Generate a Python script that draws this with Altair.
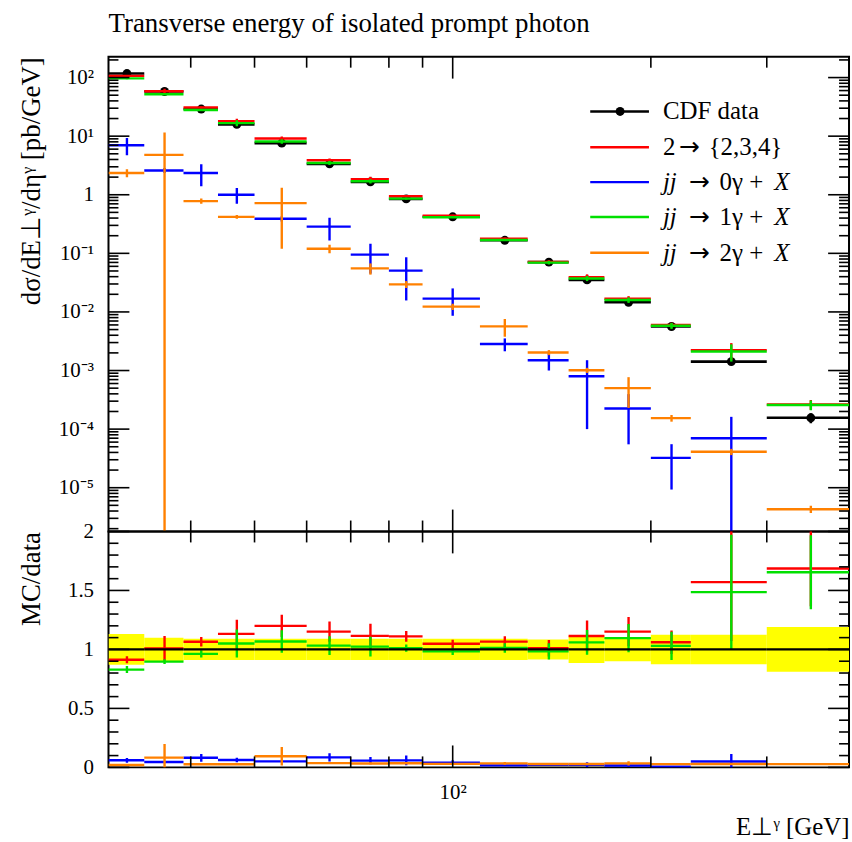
import altair as alt
import pandas as pd

FONT = "Liberation Serif"

# Photon E_T bins (GeV)
bin_lo = [30, 34, 39, 44, 50, 60, 70, 80, 90, 110, 130, 150, 170, 200, 230, 300]
bin_hi = [34, 39, 44, 50, 60, 70, 80, 90, 110, 130, 150, 170, 200, 230, 300, 400]
bin_mid = [32, 36.5, 41.5, 47, 55, 65, 75, 85, 100, 120, 140, 160, 185, 215, 265, 350]

# CDF measurement [pb/GeV] and its relative uncertainty
cdf_val = [117, 57.8, 29.0, 15.9, 7.6, 3.37, 1.66, 0.85, 0.42, 0.167, 0.0707,
           0.0352, 0.0146, 0.00564, 0.00142, 0.000156]
cdf_rel_err = [0.13, 0.10, 0.09, 0.09, 0.09, 0.09, 0.09, 0.09, 0.09, 0.09, 0.085,
               0.115, 0.10, 0.125, 0.125, 0.19]

# Monte Carlo predictions [pb/GeV] with statistical errors
mc_red = [106.8, 58.3, 30.9, 18.0, 9.12, 3.88, 1.85, 0.944, 0.440, 0.178, 0.0714,
          0.0392, 0.0168, 0.00598, 0.00223, 0.000263]
mc_red_err = [3.5, 6.1, 1.16, 1.9, 0.72, 0.29, 0.17, 0.038, 0.0147, 0.0075, 0.0049,
              0.0046, 0.0018, 0.00056, 0.00071, 0.00005]
mc_blue = [7.0, 2.6, 2.35, 1.0, 0.39, 0.286, 0.0952, 0.0507, 0.0169, 0.00283, 0.00150,
           0.000800, 0.000225, 3.23e-5, 7.0e-5, 0]
mc_blue_err = [2.3, 0.25, 0.95, 0.3, 0.04, 0.12, 0.05, 0.035, 0.0083, 0.0007, 0.0005,
               0.0007, 0.00017, 2.3e-5, 9.2e-5, 0]
mc_green = [97.0, 51.8, 27.9, 16.7, 8.11, 3.48, 1.70, 0.859, 0.413, 0.169, 0.0695,
            0.0373, 0.0160, 0.00581, 0.00211, 0.000258]
mc_green_err = [3.5, 1.2, 0.87, 1.9, 0.72, 0.27, 0.14, 0.026, 0.0126, 0.0067, 0.0049,
                0.0037, 0.00175, 0.00068, 0.00069, 0.000049]
mc_orange = [2.35, 4.8, 0.78, 0.42, 0.72, 0.12, 0.0553, 0.0296, 0.0123, 0.00567, 0.00203,
             0.00101, 0.00050, 0.000154, 4.1e-5, 4.3e-6]
mc_orange_err = [0.37, 6.7, 0.08, 0.03, 0.6, 0.02, 0.012, 0.004, 0.0015, 0.0019, 0.0002,
                 0.0001, 0.00027, 2e-5, 5e-6, 6e-7]

RED, BLUE, GREEN, ORANGE = "#ff0000", "#0000ff", "#00e000", "#ff8000"

W, H_TOP, H_BOT = 744, 477, 237
FLOOR = 1e-7

x_scale = alt.Scale(type="log", domain=[30, 400], nice=False)
y_top_scale = alt.Scale(type="log", domain=[1.79e-6, 227], nice=False)
y_bot_scale = alt.Scale(domain=[0, 2], nice=False, zero=False)

# ---- axes -------------------------------------------------------------
sup = {2: "²", 1: "¹", -1: "⁻¹", -2: "⁻²", -3: "⁻³", -4: "⁻⁴", -5: "⁻⁵"}
top_major = [10.0 ** k for k in range(-5, 3)]
parts = []
for k in range(2, -6, -1):
    lab = "1" if k == 0 else "10" + sup[k]
    parts.append(f"datum.value > {0.5 * 10.0 ** k} ? '{lab}'")
top_label_expr = " : ".join(parts) + " : ''"

common_axis = dict(ticks=False, domain=False, grid=False, labelFont=FONT,
                   labelColor="black", labelFlush=False, labelOverlap=False,
                   titleFont=FONT, titleFontWeight="normal", titleColor="black")

ya_top = alt.Axis(values=top_major, labelExpr=top_label_expr, labelFontSize=21,
                  labelPadding=15, title="dσ/dE⊥ᵞ/dηᵞ [pb/GeV]", titleFontSize=27,
                  titleAnchor="end", titleX=-69, titleBaseline="alphabetic",
                  titleAngle=270, **common_axis)
ya_bot = alt.Axis(values=[0, 0.5, 1, 1.5, 2], format=".1~f", labelFontSize=21,
                  labelPadding=15, title="MC/data", titleFontSize=27,
                  titleAnchor="end", titleX=-69, titleBaseline="alphabetic",
                  titleAngle=270, **common_axis)
xa_bot = alt.Axis(values=[100], labelExpr="'10²'", labelFontSize=21, labelPadding=14,
                  title="E⊥ᵞ [GeV]", titleFontSize=25, titleAnchor="end",
                  titlePadding=12, **common_axis)

# ---- tables ------------------------------------------------------------
data_df = pd.DataFrame({
    "lo": bin_lo, "hi": bin_hi, "mid": bin_mid, "v": cdf_val,
    "vlo": [v * (1 - e) for v, e in zip(cdf_val, cdf_rel_err)],
    "vhi": [v * (1 + e) for v, e in zip(cdf_val, cdf_rel_err)],
    "one": [v / v for v in cdf_val],
    "blo": [1 - e for e in cdf_rel_err],
    "bhi": [1 + e for e in cdf_rel_err],
})


def mc_frame(vals, errs):
    rows = []
    for lo, hi, mid, v, e, d in zip(bin_lo, bin_hi, bin_mid, vals, errs, cdf_val):
        if v <= 0:
            continue
        rows.append(dict(lo=lo, hi=hi, mid=mid, v=v, vlo=max(v - e, FLOOR), vhi=v + e,
                         r=v / d, rlo=(v - e) / d, rhi=(v + e) / d))
    return pd.DataFrame(rows)


series = [
    (RED, mc_frame(mc_red, mc_red_err)),
    (GREEN, mc_frame(mc_green, mc_green_err)),
    (BLUE, mc_frame(mc_blue, mc_blue_err)),
    (ORANGE, mc_frame(mc_orange, mc_orange_err)),
]


def step_layers(df, color, y_scale, yaxis, xaxis, yf, lof, hif, sw=2.4):
    base = alt.Chart(df).mark_rule(color=color, strokeWidth=sw, clip=True)
    h = base.encode(x=alt.X("lo:Q", scale=x_scale, axis=xaxis), x2="hi:Q",
                    y=alt.Y(f"{yf}:Q", scale=y_scale, axis=yaxis))
    v = base.encode(x=alt.X("mid:Q", scale=x_scale, axis=xaxis),
                    y=alt.Y(f"{lof}:Q", scale=y_scale, axis=yaxis), y2=f"{hif}:Q")
    return [h, v]


def tick_layers(y_scale, yaxis, xaxis, height, y_major, y_minor):
    layers = []
    x_major, x_minor = [100], [40, 50, 60, 70, 80, 90, 200, 300]
    for vals, L in ((x_major, 22), (x_minor, 11)):
        base = alt.Chart(pd.DataFrame({"t": vals})).mark_rule(color="black", strokeWidth=1.6)
        xe = alt.X("t:Q", scale=x_scale, axis=xaxis)
        layers.append(base.encode(x=xe, y=alt.value(0), y2=alt.value(L)))
        layers.append(base.encode(x=xe, y=alt.value(height), y2=alt.value(height - L)))
    for vals, L in ((y_major, 21), (y_minor, 10)):
        base = alt.Chart(pd.DataFrame({"t": vals})).mark_rule(color="black", strokeWidth=1.6)
        ye = alt.Y("t:Q", scale=y_scale, axis=yaxis)
        layers.append(base.encode(y=ye, x=alt.value(0), x2=alt.value(L)))
        layers.append(base.encode(y=ye, x=alt.value(W), x2=alt.value(W - L)))
    return layers


top_minor = []
for k in range(-6, 3):
    for m in range(2, 10):
        val = m * 10.0 ** k
        if 1.79e-6 < val < 227:
            top_minor.append(val)
bot_minor = [i / 10 for i in range(1, 20) if i % 5 != 0]


def text_layer(txt, x, y, italic=False, font=FONT, size=25, baseline="middle"):
    return alt.Chart(pd.DataFrame({"t": [txt]})).mark_text(
        font=font, fontSize=size, align="left", baseline=baseline, color="black",
        fontStyle="italic" if italic else "normal").encode(
        text="t:N", x=alt.value(x), y=alt.value(y))


# ---- upper panel -----------------------------------------------------
top_layers = []
top_layers += step_layers(data_df, "black", y_top_scale, ya_top, None, "v", "vlo", "vhi", sw=2.6)
top_layers.append(
    alt.Chart(data_df).mark_circle(color="black", size=80, opacity=1).encode(
        x=alt.X("mid:Q", scale=x_scale, axis=None),
        y=alt.Y("v:Q", scale=y_top_scale, axis=ya_top)))
for color, df in series:
    top_layers += step_layers(df, color, y_top_scale, ya_top, None, "v", "vlo", "vhi")
top_layers += tick_layers(y_top_scale, ya_top, None, H_TOP, top_major, top_minor)

# panel title, above the frame
top_layers.append(text_layer("Transverse energy of isolated prompt photon", 0, -25,
                             size=27, baseline="alphabetic"))

# legend
one = pd.DataFrame({"k": [0]})
LX0, LX1, TX = 484, 543, 557
rows_y = [55, 91, 126, 161, 197]
legend_colors = ["black", RED, BLUE, GREEN, ORANGE]
for yy, c in zip(rows_y, legend_colors):
    top_layers.append(alt.Chart(one).mark_rule(color=c, strokeWidth=2.4).encode(
        x=alt.value(LX0), x2=alt.value(LX1), y=alt.value(yy)))
top_layers.append(alt.Chart(one).mark_circle(color="black", size=80, opacity=1).encode(
    x=alt.value(514), y=alt.value(rows_y[0])))

top_layers.append(text_layer("CDF data", TX, rows_y[0]))
top_layers.append(text_layer("2", TX, rows_y[1]))
top_layers.append(text_layer("→", TX + 16, rows_y[1], font="DejaVu Sans"))
top_layers.append(text_layer("{2,3,4}", TX + 46, rows_y[1]))
for yy, n in zip(rows_y[2:], ["0", "1", "2"]):
    top_layers.append(text_layer("jj", TX, yy, italic=True))
    top_layers.append(text_layer("→", TX + 26, yy, font="DejaVu Sans"))
    top_layers.append(text_layer(f"{n}γ +", TX + 57, yy))
    top_layers.append(text_layer("X", TX + 112, yy, italic=True))

top = alt.layer(*top_layers).properties(width=W, height=H_TOP)

# ---- ratio panel -----------------------------------------------------
bot_layers = []
bot_layers.append(alt.Chart(data_df).mark_rect(color="#ffff00", clip=True).encode(
    x=alt.X("lo:Q", scale=x_scale, axis=xa_bot), x2="hi:Q",
    y=alt.Y("blo:Q", scale=y_bot_scale, axis=ya_bot), y2="bhi:Q"))
for color, df in series:
    bot_layers += step_layers(df, color, y_bot_scale, ya_bot, xa_bot, "r", "rlo", "rhi")
bot_layers.append(alt.Chart(data_df).mark_rule(color="black", strokeWidth=2.2).encode(
    x=alt.X("lo:Q", scale=x_scale, axis=xa_bot), x2="hi:Q",
    y=alt.Y("one:Q", scale=y_bot_scale, axis=ya_bot)))
bot_layers += tick_layers(y_bot_scale, ya_bot, xa_bot, H_BOT, [0, 0.5, 1, 1.5, 2], bot_minor)

bot = alt.layer(*bot_layers).properties(width=W, height=H_BOT)

chart = alt.vconcat(top, bot, spacing=0, bounds="flush").properties(
    padding={"left": 17, "top": 7, "right": 0, "bottom": 0},
    background="white",
).configure_view(stroke="black", strokeWidth=2)

chart.save("out.html", embed_options={"renderer": "svg", "actions": False})
